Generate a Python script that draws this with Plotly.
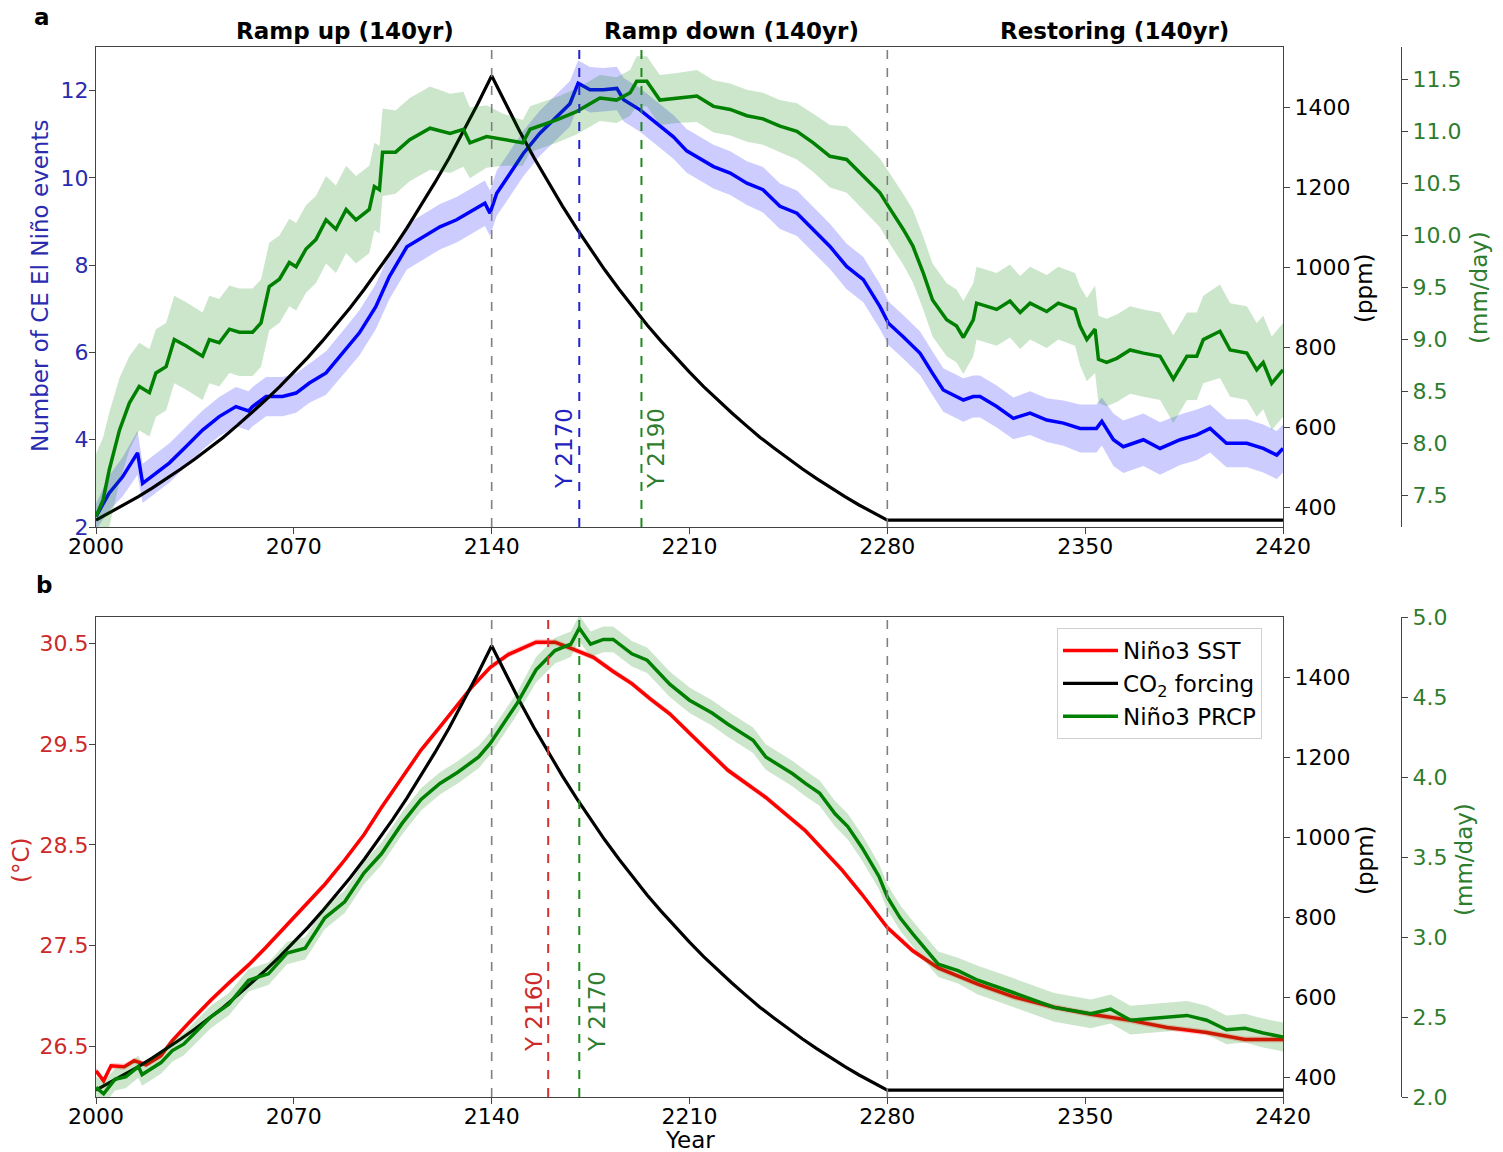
import plotly.graph_objects as go

# ---------------- data ----------------
x_ticks = [2000, 2070, 2140, 2210, 2280, 2350, 2420]

co2_years = [2000, 2005, 2010, 2015, 2020, 2025, 2030, 2035, 2040, 2045, 2050, 2055, 2060, 2065,
             2070, 2075, 2080, 2085, 2090, 2095, 2100, 2105, 2110, 2115, 2120, 2125, 2130, 2135,
             2140, 2145, 2150, 2155, 2160, 2165, 2170, 2175, 2180, 2185, 2190, 2195, 2200, 2205,
             2210, 2215, 2220, 2225, 2230, 2235, 2240, 2245, 2250, 2255, 2260, 2265, 2270, 2275,
             2280, 2420]
co2_ppm = [367, 386, 405, 426, 448, 471, 495, 520, 547, 574, 604, 635, 667, 701,
           737, 774, 814, 855, 899, 945, 993, 1044, 1097, 1153, 1212, 1273, 1338, 1407,
           1478, 1407, 1338, 1273, 1212, 1153, 1097, 1044, 993, 945, 899, 855, 814, 774,
           737, 701, 667, 635, 604, 574, 547, 520, 495, 471, 448, 426, 405, 386,
           367, 367]

# Panel a: number of CE El Nino events (left axis)
ce_years = [2000, 2004.7, 2009.4, 2014.7, 2016.5, 2021.2, 2026, 2031.8, 2037.7, 2043.6, 2049.5, 2054, 2055.4,
            2060.2, 2066, 2070.8, 2075.5, 2081.4, 2087.3, 2093.2, 2099, 2103.8, 2110, 2115.7, 2121.7,
            2127.6, 2133.5, 2137.6, 2139.4, 2141.8, 2146.5, 2151.2, 2157, 2163, 2167.7, 2170.6, 2174.8,
            2179.5, 2184.3, 2186.7, 2192.5, 2198.4, 2204.3, 2209, 2212.6, 2218.5, 2224.4, 2230.3, 2236,
            2242, 2248, 2253.8, 2259.7, 2265.6, 2271.5, 2277.4, 2280.4, 2285.6, 2291.6, 2296, 2299.8,
            2306.9, 2310.4, 2312.8, 2318.7, 2324.6, 2330.5, 2336.4, 2342.3, 2348.2, 2354, 2355.9, 2360,
            2363.5, 2370.6, 2376.5, 2383.6, 2389.5, 2394.2, 2400, 2407.2, 2413, 2417.8, 2420]
ce_count = [2.24, 2.78, 3.15, 3.7, 3.0, 3.24, 3.47, 3.84, 4.22, 4.53, 4.76, 4.66, 4.76,
            4.99, 4.99, 5.07, 5.3, 5.53, 5.99, 6.45, 7.05, 7.74, 8.42, 8.65, 8.88,
            9.04, 9.27, 9.42, 9.19, 9.65, 10.1, 10.56, 11.02, 11.4, 11.7, 12.17, 12.02,
            12.02, 12.05, 11.79, 11.56, 11.25, 10.94, 10.62, 10.49, 10.26, 10.11, 9.88, 9.73,
            9.35, 9.19, 8.81, 8.43, 7.97, 7.67, 7.05, 6.67, 6.36, 5.98, 5.52, 5.14,
            4.91, 4.99, 4.99, 4.76, 4.49, 4.61, 4.45, 4.38, 4.26, 4.26, 4.42, 4.0,
            3.84, 4.0, 3.8, 4.0, 4.11, 4.26, 3.92, 3.92, 3.8, 3.65, 3.8]
ce_spread = [0.3, 0.4, 0.45, 0.5, 0.45, 0.45, 0.45, 0.45, 0.45, 0.45, 0.45, 0.45, 0.45,
             0.45, 0.45, 0.45, 0.45, 0.5, 0.5, 0.52, 0.52, 0.52, 0.52, 0.52, 0.52,
             0.52, 0.52, 0.52, 0.52, 0.52, 0.52, 0.52, 0.52, 0.52, 0.52, 0.52, 0.52,
             0.5, 0.5, 0.5, 0.5, 0.5, 0.5, 0.5, 0.5, 0.5, 0.5, 0.5, 0.52,
             0.52, 0.52, 0.52, 0.52, 0.52, 0.52, 0.52, 0.5, 0.5, 0.5, 0.5, 0.5,
             0.5, 0.48, 0.48, 0.48, 0.48, 0.5, 0.5, 0.52, 0.55, 0.55, 0.55, 0.6,
             0.6, 0.6, 0.6, 0.58, 0.58, 0.55, 0.55, 0.55, 0.55, 0.55, 0.55]

# Panel a: Nino3 PRCP (mm/day)
pa_years = [2000, 2002.5, 2004.7, 2008.3, 2011.8, 2015.3, 2018.9, 2021.2, 2024.8, 2027.7, 2031.8, 2037.7,
            2040.1, 2043.6, 2047.2, 2050.7, 2055.4, 2058.4, 2061.3, 2064.9, 2068.4, 2070.8, 2074.3,
            2077.8, 2081.4, 2084.9, 2088.5, 2092, 2096.7, 2098.5, 2100.3, 2101.4, 2106, 2111, 2118.2,
            2125.3, 2130, 2132.3, 2138.2, 2144, 2151, 2153.6, 2163, 2170, 2178.3, 2184.2, 2189,
            2191.3, 2194.9, 2199.5, 2205.5, 2212.6, 2218.5, 2224.4, 2230.3, 2236, 2242, 2248, 2253.8,
            2259.7, 2265.6, 2271.5, 2277.4, 2280.4, 2285.6, 2289, 2292.7, 2296, 2301, 2304.5, 2306.9,
            2310.4, 2311.6, 2318.7, 2323.4, 2327, 2330.5, 2336.4, 2340.5, 2346.4, 2348.2, 2350.6,
            2353.5, 2354.7, 2357.6, 2361.2, 2365.9, 2370.6, 2376.5, 2381.2, 2386, 2389.5, 2391.8,
            2397.7, 2401.3, 2407.2, 2410.7, 2413, 2416, 2420]
pa_prcp = [7.3, 7.46, 7.75, 8.13, 8.39, 8.55, 8.49, 8.68, 8.74, 9.0, 8.94, 8.84,
           9.0, 8.97, 9.1, 9.07, 9.07, 9.16, 9.51, 9.58, 9.74, 9.7, 9.87,
           9.96, 10.15, 10.06, 10.25, 10.15, 10.25, 10.47, 10.44, 10.8, 10.8, 10.92, 11.03,
           10.98, 11.02, 10.89, 10.95, 10.92, 10.89, 11.02, 11.11, 11.19, 11.32, 11.3, 11.37,
           11.48, 11.48, 11.3, 11.32, 11.34, 11.24, 11.21, 11.15, 11.12, 11.05, 11.0, 10.89,
           10.76, 10.73, 10.57, 10.41, 10.28, 10.06, 9.9, 9.64, 9.38, 9.19, 9.13, 9.02,
           9.19, 9.35, 9.29, 9.37, 9.26, 9.35, 9.27, 9.35, 9.29, 9.13, 9.0,
           9.1, 8.81, 8.78, 8.82, 8.9, 8.87, 8.84, 8.62, 8.84, 8.84, 9.0,
           9.08, 8.9, 8.87, 8.71, 8.78, 8.58, 8.71]
pa_spread = [0.6, 0.6, 0.55, 0.5, 0.45, 0.42, 0.42, 0.42, 0.42, 0.42, 0.42, 0.42,
             0.42, 0.42, 0.42, 0.42, 0.42, 0.42, 0.42, 0.42, 0.42, 0.42, 0.42,
             0.42, 0.42, 0.42, 0.42, 0.42, 0.42, 0.42, 0.42, 0.42, 0.4, 0.4, 0.4,
             0.38, 0.36, 0.34, 0.3, 0.25, 0.22, 0.22, 0.22, 0.22, 0.22, 0.22, 0.22,
             0.24, 0.24, 0.24, 0.24, 0.25, 0.25, 0.25, 0.25, 0.25, 0.25, 0.27, 0.28,
             0.3, 0.32, 0.33, 0.33, 0.34, 0.34, 0.35, 0.35, 0.35, 0.35, 0.35, 0.35,
             0.35, 0.35, 0.35, 0.35, 0.35, 0.35, 0.35, 0.35, 0.35, 0.38, 0.4,
             0.42, 0.42, 0.42, 0.42, 0.42, 0.42, 0.42, 0.42, 0.42, 0.42, 0.42,
             0.45, 0.45, 0.45, 0.45, 0.45, 0.45, 0.45]

# Panel b: Nino3 SST (deg C)
sst_years = [2000, 2002.7, 2005.3, 2010, 2013.5, 2017.7, 2023, 2027, 2033, 2040.6, 2047, 2054, 2060,
             2067.6, 2074, 2081, 2088, 2094.8, 2101, 2108.3, 2115, 2121.7, 2127, 2132.8, 2139.5, 2146,
             2155.7, 2162.4, 2169, 2176, 2183, 2189.6, 2196, 2203, 2212.5, 2223.6, 2237, 2251, 2264,
             2271, 2280, 2289, 2298, 2312, 2325, 2339, 2352, 2366, 2379, 2393, 2406.5, 2420]
sst = [26.26, 26.16, 26.31, 26.3, 26.36, 26.32, 26.41, 26.56, 26.74, 26.96, 27.13, 27.31, 27.48,
       27.71, 27.9, 28.11, 28.35, 28.6, 28.87, 29.17, 29.44, 29.67, 29.86, 30.06, 30.26, 30.39,
       30.51, 30.51, 30.44, 30.36, 30.22, 30.1, 29.95, 29.8, 29.54, 29.24, 28.97, 28.64, 28.25,
       28.01, 27.68, 27.45, 27.28, 27.12, 26.99, 26.89, 26.82, 26.76, 26.69, 26.64, 26.57, 26.57]

# Panel b: Nino3 PRCP (mm/day)
pb_years = [2000, 2002.7, 2006.7, 2010.5, 2015, 2016.3, 2023, 2027, 2031, 2040.6, 2047, 2054, 2061,
            2067.6, 2074, 2081, 2088, 2094.8, 2101, 2108.3, 2115, 2121.7, 2128, 2135.4, 2139.5, 2144,
            2149, 2155.7, 2162.4, 2168, 2171, 2175, 2179.5, 2183, 2189.6, 2195, 2203, 2210, 2218,
            2223.6, 2232.5, 2237, 2246.5, 2251, 2256, 2261.5, 2266, 2271, 2277, 2280, 2284.5, 2289,
            2298, 2305, 2312, 2325, 2339, 2352, 2359, 2366, 2379, 2386, 2393, 2400, 2406.5, 2413, 2420]
pb_prcp = [2.06, 2.02, 2.11, 2.125, 2.19, 2.14, 2.215, 2.29, 2.33, 2.5, 2.58, 2.73, 2.77,
           2.9, 2.93, 3.12, 3.22, 3.4, 3.52, 3.71, 3.86, 3.96, 4.03, 4.125, 4.21, 4.33,
           4.46, 4.67, 4.79, 4.83, 4.93, 4.83, 4.86, 4.86, 4.77, 4.73, 4.58, 4.48, 4.4,
           4.33, 4.23, 4.125, 4.02, 3.96, 3.9, 3.77, 3.69, 3.56, 3.38, 3.25, 3.12, 3.02,
           2.83, 2.79, 2.73, 2.65, 2.56, 2.52, 2.55, 2.48, 2.5, 2.51, 2.48, 2.42, 2.43, 2.40, 2.375]
pb_spread = [0.07, 0.07, 0.07, 0.07, 0.07, 0.07, 0.07, 0.07, 0.07, 0.07, 0.07, 0.07, 0.07,
             0.07, 0.07, 0.07, 0.07, 0.07, 0.07, 0.07, 0.07, 0.07, 0.07, 0.07, 0.07, 0.07,
             0.07, 0.08, 0.08, 0.08, 0.08, 0.08, 0.08, 0.08, 0.08, 0.08, 0.08, 0.08, 0.08,
             0.08, 0.08, 0.08, 0.08, 0.08, 0.08, 0.08, 0.08, 0.08, 0.08, 0.08, 0.08, 0.08,
             0.08, 0.08, 0.09, 0.09, 0.09, 0.09, 0.09, 0.09, 0.09, 0.09, 0.09, 0.09, 0.09, 0.09, 0.09]

# ---------------- styles ----------------
FONT = "DejaVu Sans"
FS = 22      # tick labels
FT = 23      # titles / text
BLUE = "#0000ff"
GREEN = "#008000"
RED = "#ff0000"
BLUE_T = "#2b2bb0"
GREEN_T = "#2e7d2e"
RED_T = "#cc2a2a"
AX = "#444444"

# page geometry (body margin removed by post_script, so the figure fills the page)
W, H = 1503, 1152
ML, MT = 96, 47
PW, PH = 1305, 1050
MR, MB = W - ML - PW, H - MT - PH


def px(xp):
    return (xp - 96) / PW


def py(yp):
    return (1097 - yp) / PH


fig = go.Figure()


def add_band(x, y, s, xa, ya, color):
    up = [v + d for v, d in zip(y, s)]
    lo = [v - d for v, d in zip(y, s)]
    fig.add_trace(go.Scatter(x=x, y=up, xaxis=xa, yaxis=ya, mode="lines", line=dict(width=0),
                             showlegend=False, hoverinfo="skip"))
    fig.add_trace(go.Scatter(x=x, y=lo, xaxis=xa, yaxis=ya, mode="lines", line=dict(width=0),
                             fill="tonexty", fillcolor=color, showlegend=False, hoverinfo="skip"))


# Panel a
add_band(ce_years, ce_count, ce_spread, "x", "y", "rgba(0,0,255,0.2)")
fig.add_trace(go.Scatter(x=ce_years, y=ce_count, xaxis="x", yaxis="y", mode="lines",
                         line=dict(color=BLUE, width=3.5), showlegend=False))
fig.add_trace(go.Scatter(x=co2_years, y=co2_ppm, xaxis="x", yaxis="y2", mode="lines",
                         line=dict(color="black", width=3.2), showlegend=False))
add_band(pa_years, pa_prcp, pa_spread, "x", "y3", "rgba(0,128,0,0.2)")
fig.add_trace(go.Scatter(x=pa_years, y=pa_prcp, xaxis="x", yaxis="y3", mode="lines",
                         line=dict(color=GREEN, width=3.5), showlegend=False))

# Panel b
add_band(sst_years, sst, [0.03] * len(sst), "x2", "y4", "rgba(255,0,0,0.2)")
fig.add_trace(go.Scatter(x=sst_years, y=sst, xaxis="x2", yaxis="y4", mode="lines",
                         line=dict(color=RED, width=3.5), name="Niño3 SST"))
fig.add_trace(go.Scatter(x=co2_years, y=co2_ppm, xaxis="x2", yaxis="y5", mode="lines",
                         line=dict(color="black", width=3.2), name="CO<sub>2</sub> forcing"))
add_band(pb_years, pb_prcp, pb_spread, "x2", "y6", "rgba(0,128,0,0.2)")
fig.add_trace(go.Scatter(x=pb_years, y=pb_prcp, xaxis="x2", yaxis="y6", mode="lines",
                         line=dict(color=GREEN, width=3.5), name="Niño3 PRCP"))

XD = [0, 1187 / PW]
DA = [570 / PH, 1]
DB = [0, 480 / PH]

common_x = dict(range=[2000, 2420], tickvals=x_ticks, ticks="outside", ticklen=6, tickcolor=AX,
                showline=True, linecolor=AX, linewidth=1.2, mirror=True, showgrid=False,
                zeroline=False, domain=XD, tickfont=dict(size=FS, color="black"), automargin=False,
                ticklabelstandoff=-7)


def yax(rng, tv, color, **kw):
    d = dict(range=rng, tickvals=tv, ticks="outside", ticklen=6, tickcolor=AX, showline=True,
             linecolor=AX, linewidth=1.2, showgrid=False, zeroline=False,
             tickfont=dict(size=FS, color=color), automargin=False)
    d.update(kw)
    return d


fig.update_layout(
    width=W, height=H,
    margin=dict(l=ML, r=MR, t=MT, b=MB),
    paper_bgcolor="white", plot_bgcolor="white",
    font=dict(family=FONT, size=FS, color="black"),
    xaxis=dict(common_x, anchor="y"),
    xaxis2=dict(common_x, anchor="y4"),
    yaxis=yax([2, 13], [2, 4, 6, 8, 10, 12], BLUE_T, domain=DA, anchor="x", ticklabelstandoff=-4),
    yaxis2=yax([350, 1550], [400, 600, 800, 1000, 1200, 1400], "black",
               overlaying="y", side="right", anchor="x"),
    yaxis3=yax([7.2, 11.81], [7.5, 8.0, 8.5, 9.0, 9.5, 10.0, 10.5, 11.0, 11.5], GREEN_T,
               overlaying="y", side="right", anchor="free", position=1.0, tickformat=".1f"),
    yaxis4=yax([26.0, 30.76], [26.5, 27.5, 28.5, 29.5, 30.5], RED_T, domain=DB, anchor="x2",
               ticklabelstandoff=-4),
    yaxis5=yax([350, 1550], [400, 600, 800, 1000, 1200, 1400], "black",
               overlaying="y4", side="right", anchor="x2"),
    yaxis6=yax([2, 5], [2.0, 2.5, 3.0, 3.5, 4.0, 4.5, 5.0], GREEN_T,
               overlaying="y4", side="right", anchor="free", position=1.0, tickformat=".1f"),
    legend=dict(x=px(1057), y=py(628), xanchor="left", yanchor="top", traceorder="normal",
                bgcolor="white", bordercolor="#d0d0d0", borderwidth=1, itemwidth=55,
                font=dict(size=FT, color="black"), tracegroupgap=0),
    showlegend=True,
)

shapes = []
for xr, yr in (("x", "y domain"), ("x2", "y4 domain")):
    for xv in (2140, 2280):
        shapes.append(dict(type="line", xref=xr, yref=yr, x0=xv, x1=xv, y0=0, y1=1,
                           line=dict(color="#808080", width=1.6, dash="dash")))
shapes.append(dict(type="line", xref="x", yref="y domain", x0=2171, x1=2171, y0=0, y1=1,
                   line=dict(color="#2323d0", width=2, dash="dash")))
shapes.append(dict(type="line", xref="x", yref="y domain", x0=2193, x1=2193, y0=0, y1=1,
                   line=dict(color="#1f8a1f", width=2, dash="dash")))
shapes.append(dict(type="line", xref="x2", yref="y4 domain", x0=2160, x1=2160, y0=0, y1=1,
                   line=dict(color="#d83030", width=2, dash="dash")))
shapes.append(dict(type="line", xref="x2", yref="y4 domain", x0=2171, x1=2171, y0=0, y1=1,
                   line=dict(color="#1f8a1f", width=2, dash="dash")))
fig.update_layout(shapes=shapes)


def txt(text, x, y, color="black", angle=0, size=FT):
    return dict(text=text, xref="paper", yref="paper", x=px(x), y=py(y), textangle=angle,
                showarrow=False, font=dict(size=size, color=color), xanchor="center",
                yanchor="middle")


ann = [
    txt("<b>a</b>", 42, 17),
    txt("<b>b</b>", 44, 585),
    txt("<b>Ramp up (140yr)</b>", 345, 31),
    txt("<b>Ramp down (140yr)</b>", 731, 31),
    txt("<b>Restoring (140yr)</b>", 1114.5, 31),
    # axis titles
    txt("Number of CE El Niño events", 40, 286, BLUE_T, -90),
    txt("(ppm)", 1364, 288, "black", -90),
    txt("(mm/day)", 1479, 288, GREEN_T, -90),
    txt("(°C)", 21, 860, RED_T, -90),
    txt("(ppm)", 1365, 860, "black", -90),
    txt("(mm/day)", 1464, 860, GREEN_T, -90),
    txt("Year", 690, 1140),
    # vertical line labels
    txt("Y 2170", 564, 449, "#2222c0", -90),
    txt("Y 2190", 656, 449, GREEN_T, -90),
    txt("Y 2160", 534, 1012, RED_T, -90),
    txt("Y 2170", 597, 1012, GREEN_T, -90),
]
fig.update_layout(annotations=ann)

fig.write_html("out.html", config={"displayModeBar": False},
               post_script="document.body.style.margin='0';document.body.style.overflow='hidden';")
